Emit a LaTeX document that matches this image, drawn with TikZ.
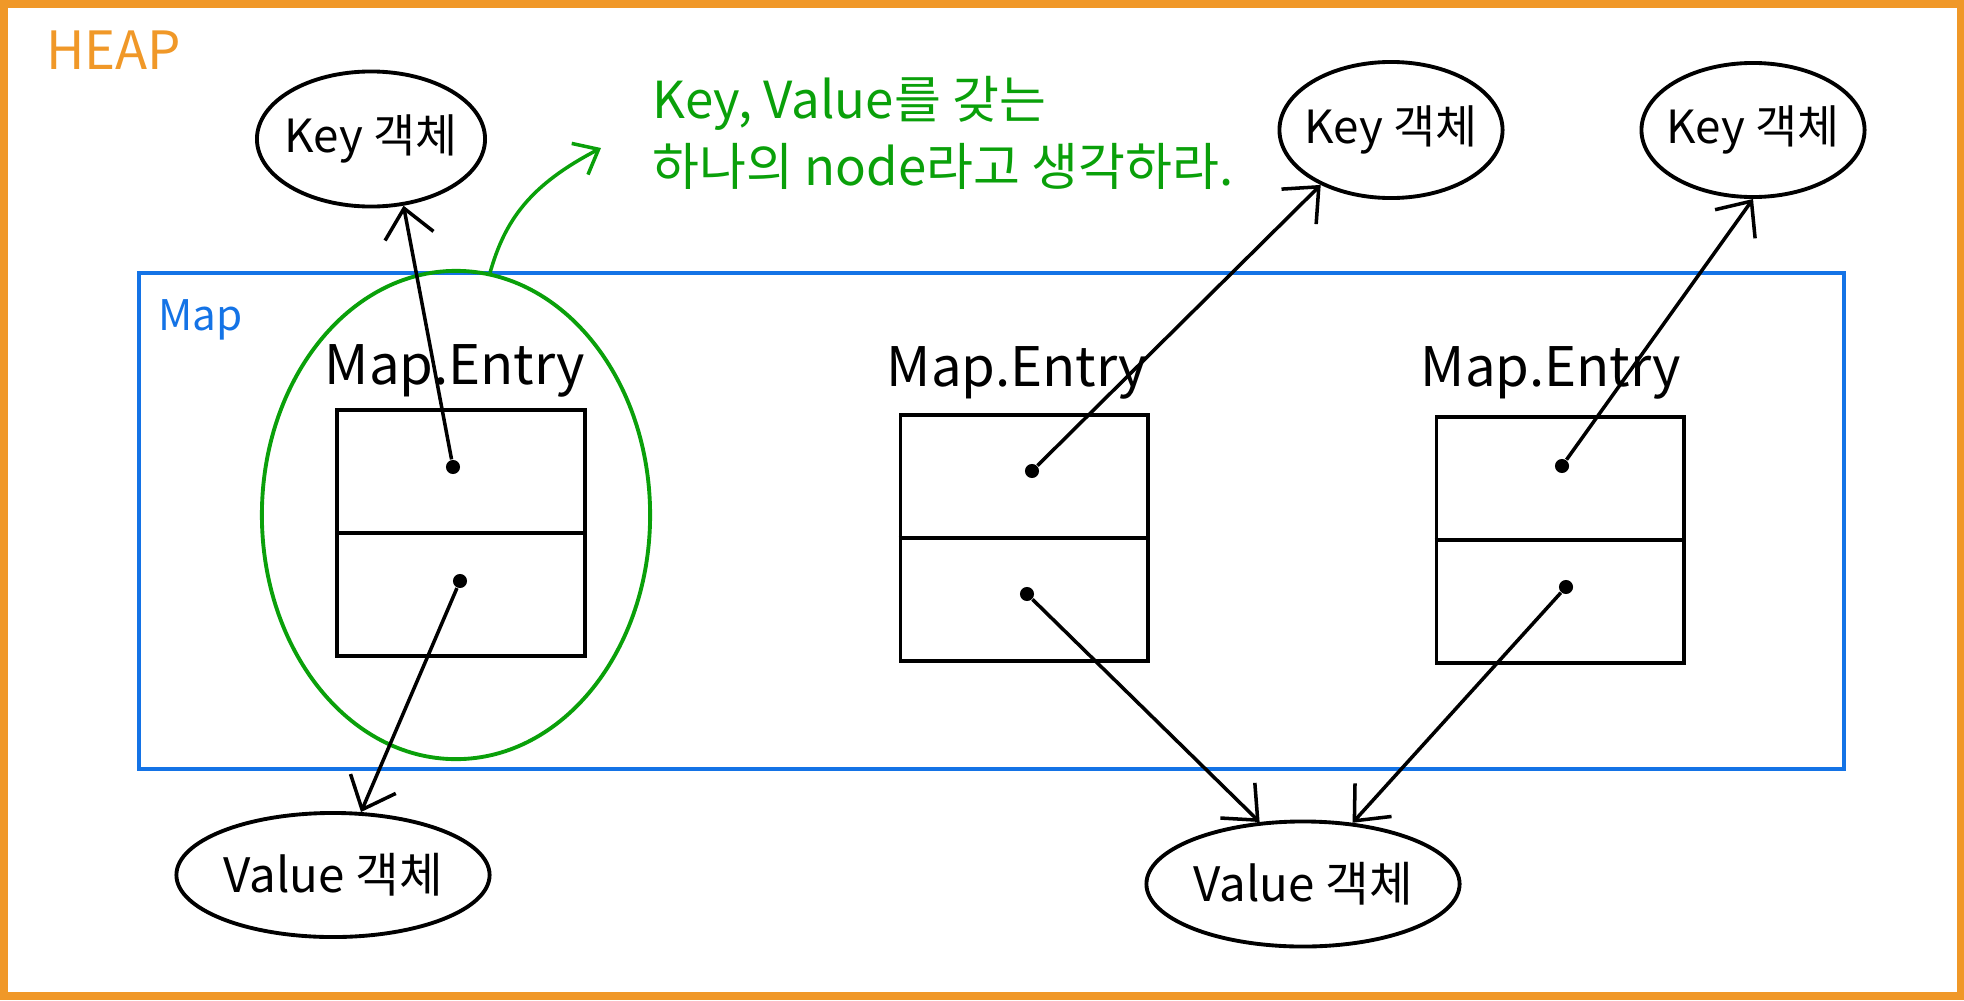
\documentclass[tikz,border=0pt]{standalone}
\usepackage{fontspec}
\setmainfont{Noto Sans CJK KR}
\usepackage{xcolor}
\usetikzlibrary{shapes.geometric, arrows, arrows.meta}

\definecolor{heaporange}{RGB}{240,152,40}
\definecolor{mapblue}{RGB}{20,115,230}
\definecolor{notegreen}{RGB}{10,160,10}

\newcommand{\objtext}[1]{\makebox[0pt]{#1}}

\tikzset{
  objnode/.style={ellipse, draw, line width=1.1pt, inner sep=0pt},
  entrybox/.style={draw, line width=1.1pt, minimum width=2.47cm, minimum height=2.46cm, inner sep=0pt},
  refdot/.style={circle, fill, inner sep=0pt, minimum size=4pt},
  ref/.style={-{Straight Barb[length=8pt,width=14pt]}, line width=1pt},
  entrylbl/.style={font=\fontsize{15.5}{18}\selectfont},
}

\begin{document}
\begin{tikzpicture}[x=0.01cm, y=-0.01cm]
        \useasboundingbox (0,0) rectangle (1964,1000);

        % heap
        \draw[heaporange, line width=2pt] (4,4) rectangle (1960,996);
        \node[heaporange, anchor=west, font=\fontsize{15}{17}\selectfont] (heaplbl) at (34,50) {HEAP};

        % map
        \draw[mapblue, line width=1.1pt] (139,273) rectangle (1844,769);
        \node[mapblue, anchor=west, font=\fontsize{12}{14}\selectfont] (maplbl) at (146,320) {Map};

        % key / value objects
        \node[objnode, minimum width=2.28cm, minimum height=1.35cm] (key1) at (371,139) {\fontsize{13}{15}\selectfont\objtext{Key 객체}};
        \node[objnode, minimum width=2.23cm, minimum height=1.36cm] (key2) at (1391,130) {\fontsize{13}{15}\selectfont\objtext{Key 객체}};
        \node[objnode, minimum width=2.23cm, minimum height=1.34cm] (key3) at (1753,130) {\fontsize{13}{15}\selectfont\objtext{Key 객체}};
        \node[objnode, minimum width=3.13cm, minimum height=1.24cm] (val1) at (333,875) {\fontsize{13.5}{15}\selectfont\objtext{Value 객체}};
        \node[objnode, minimum width=3.13cm, minimum height=1.25cm] (val2) at (1303,884) {\fontsize{13.5}{15}\selectfont\objtext{Value 객체}};

        % one entry = one node
        \node[ellipse, draw=notegreen, line width=1.1pt, minimum width=3.88cm, minimum height=4.88cm] (entrygrp) at (456,515) {};
        \node[notegreen, anchor=west, align=left, font=\fontsize{14.5}{19}\selectfont] (note) at (640,133) {Key, Value를 갖는\\하나의 node라고 생각하라.};
        \coordinate (noteptr) at (601,148);
        \draw[notegreen, -{Straight Barb[length=6pt,width=10pt]}, line width=1pt] (entrygrp.82) .. controls (505,220) and (530,185) .. (noteptr);

        % entries
        \node[entrybox] (box1) at (461,533) {};
        \node[entrybox] (box2) at (1024,538) {};
        \node[entrybox] (box3) at (1560,540) {};
        \draw[line width=1.1pt] (box1.west) -- (box1.east);
        \draw[line width=1.1pt] (box2.west) -- (box2.east);
        \draw[line width=1.1pt] (box3.west) -- (box3.east);
        \node[entrylbl] (lbl1) at (455,371) {Map.Entry};
        \node[entrylbl] (lbl2) at (1017,373) {Map.Entry};
        \node[entrylbl] (lbl3) at (1551,373) {Map.Entry};

        \node[refdot] (k1) at (453,467) {};
        \node[refdot] (v1) at (460,581) {};
        \node[refdot] (k2) at (1032,471) {};
        \node[refdot] (v2) at (1027,594) {};
        \node[refdot] (k3) at (1562,466) {};
        \node[refdot] (v3) at (1566,587) {};

        % entry -> key
        \draw[ref] (k1) -- (key1.296);
        \draw[ref] (k2) -- (key2.218);
        \draw[ref] (k3) -- (key3.south);

        % entry -> value
        \draw[ref] (v1) -- (val1.66);
        \draw[ref] (v2) -- (val2.125);
        \draw[ref] (v3) -- (val2.51);
\end{tikzpicture}
\end{document}
